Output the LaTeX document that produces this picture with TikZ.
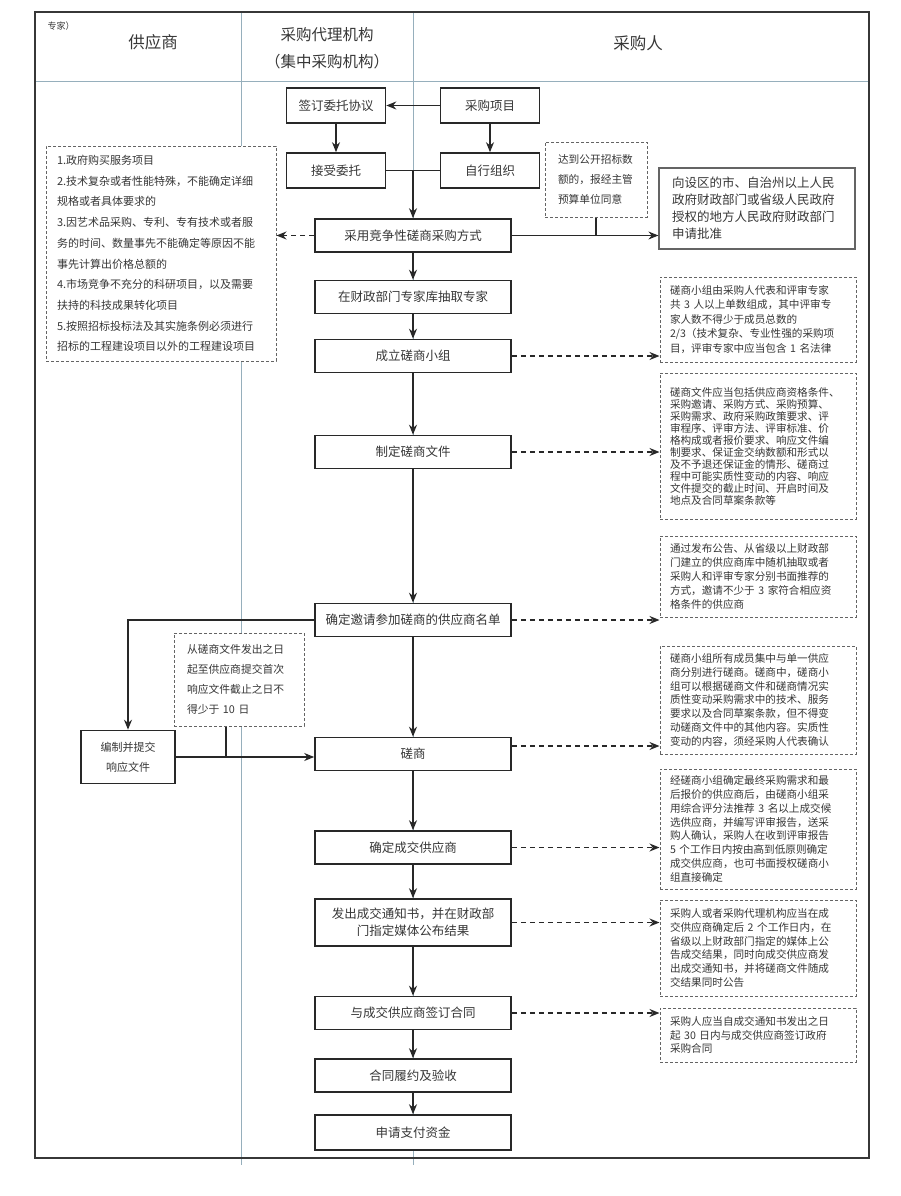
\documentclass[tikz,border=0pt]{standalone}
\usepackage{fontspec}
\newfontfamily\cjkfont{Noto Sans CJK SC}
\usepackage{tikz}
\usetikzlibrary{arrows.meta, calc}

\definecolor{FrameColor}{RGB}{55,55,55}
\definecolor{LaneColor}{RGB}{150,175,188}
\definecolor{BoxColor}{RGB}{40,40,40}
\definecolor{NoteColor}{RGB}{100,100,100}
\definecolor{TextColor}{RGB}{55,55,55}

\tikzstyle{arrow} = [line width=1.4pt, BoxColor, ->, >={Stealth[length=10pt,width=8pt]}]
\tikzstyle{dasharrow} = [line width=1.4pt, BoxColor, dash pattern=on 5pt off 4pt, ->, >={Stealth[length=10pt,width=8pt]}]
\tikzstyle{link} = [line width=1.4pt, BoxColor]
\tikzset{
  flowbox/.style={rectangle, draw=BoxColor, line width=1.6pt, fill=white, text=TextColor, minimum width=196pt, minimum height=33pt, align=center, font=\cjkfont\fontsize{12.5}{17}\selectfont},
  notebox/.style={rectangle, draw=NoteColor, line width=1pt, dash pattern=on 3pt off 2pt, fill=white, text=TextColor, align=left, inner xsep=10pt, text width=176pt, font=\cjkfont\fontsize{10.6}{13.8}\selectfont},
  lane/.style={line width=0.8pt, LaneColor},
  header/.style={text=TextColor, font=\cjkfont\fontsize{16.5}{24}\selectfont}
}

\begin{document}
\begin{tikzpicture}[x=1pt, y=-1pt]
  \useasboundingbox (0,0) rectangle (900,1196);

  % Swim lanes
  \draw[lane] (241,12) -- (241,1165);
  \draw[lane] (413,12) -- (413,1165);
  \draw[lane] (35,81) -- (869,81);

  % Outer frame
  \draw[line width=1.8pt, FrameColor] (35,12) rectangle (869,1158);

  % Lane headers
  \node[text=TextColor, font=\cjkfont\fontsize{9}{9}\selectfont] (stray) at (61,26) {专家）};
  \node[header] (supplier) at (153,42) {供应商};
  \node[header, align=center, font=\cjkfont\fontsize{15.5}{27}\selectfont] (agency) at (327,48.5) {采购代理机构\\（集中采购机构）};
  \node[header] (purchaser) at (638,43) {采购人};

  % Entrusting or self-organising
  \node[flowbox, minimum width=99pt, minimum height=35pt] (agreement) at (336,105.5) {签订委托协议};
  \node[flowbox, minimum width=99pt, minimum height=35pt] (project) at (490,105.5) {采购项目};
  \node[flowbox, minimum width=99pt, minimum height=35pt] (entrust) at (336,170.5) {接受委托};
  \node[flowbox, minimum width=99pt, minimum height=35pt] (selforg) at (490,170.5) {自行组织};
  \draw[arrow] (project) -- (agreement);
  \draw[arrow] (agreement) -- (entrust);
  \draw[arrow] (project) -- (selforg);
  \draw[link] (entrust) -- (selforg);

  % Main flow
  \node[flowbox] (method) at (413,235.5) {采用竞争性磋商采购方式};
  \node[flowbox] (experts) at (413,297) {在财政部门专家库抽取专家};
  \node[flowbox] (panel) at (413,356) {成立磋商小组};
  \node[flowbox] (docs) at (413,452) {制定磋商文件};
  \node[flowbox] (invite) at (413,620) {确定邀请参加磋商的供应商名单};
  \node[flowbox] (consult) at (413,754) {磋商};
  \node[flowbox] (winner) at (413,847.5) {确定成交供应商};
  \node[flowbox, minimum height=47pt] (notice) at (413,922.5) {发出成交通知书，并在财政部\\门指定媒体公布结果};
  \node[flowbox] (contract) at (413,1013) {与成交供应商签订合同};
  \node[flowbox] (perform) at (413,1075.5) {合同履约及验收};
  \node[flowbox, minimum height=35pt] (payment) at (413,1132.5) {申请支付资金};

  \coordinate (join) at (entrust.east -| method.north);
  \draw[arrow] (join) -- (method.north);
  \draw[arrow] (method) -- (experts);
  \draw[arrow] (experts) -- (panel);
  \draw[arrow] (panel) -- (docs);
  \draw[arrow] (docs) -- (invite);
  \draw[arrow] (invite) -- (consult);
  \draw[arrow] (consult) -- (winner);
  \draw[arrow] (winner) -- (notice);
  \draw[arrow] (notice) -- (contract);
  \draw[arrow] (contract) -- (perform);
  \draw[arrow] (perform) -- (payment);

  % Applicable cases
  \node[notebox, text width=208pt, inner xsep=11pt, minimum height=215pt, font=\cjkfont\fontsize{11}{20.7}\selectfont] (services) at (161,253.5) {1.政府购买服务项目\\2.技术复杂或者性能特殊，不能确定详细\\规格或者具体要求的\\3.因艺术品采购、专利、专有技术或者服\\务的时间、数量事先不能确定等原因不能\\事先计算出价格总额的\\4.市场竞争不充分的科研项目，以及需要\\扶持的科技成果转化项目\\5.按照招标投标法及其实施条例必须进行\\招标的工程建设项目以外的工程建设项目};
  \draw[dasharrow] (method.west) -- (method.west -| services.east);

  % Approval
  \node[notebox, text width=76pt, inner xsep=13pt, minimum height=75pt, font=\cjkfont\fontsize{10.7}{20}\selectfont] (threshold) at (596,179.5) {达到公开招标数\\额的，报经主管\\预算单位同意};
  \node[rectangle, draw=NoteColor, line width=1.2pt, fill=white, text=TextColor, align=left, text width=170pt, inner xsep=13pt, minimum height=81pt, font=\cjkfont\fontsize{12.5}{17}\selectfont] (approval) at (757,208.5) {向设区的市、自治州以上人民\\政府财政部门或省级人民政府\\授权的地方人民政府财政部门\\申请批准};
  \draw[arrow] (method.east) -- (method.east -| approval.west);
  \draw[link] (threshold.south) -- (threshold.south |- method.east);

  % Notes on the right
  \node[notebox, minimum height=85pt, font=\cjkfont\fontsize{10.6}{14.5}\selectfont] (panelnote) at (758,319.5) {磋商小组由采购人代表和评审专家\\共 3 人以上单数组成，其中评审专\\家人数不得少于成员总数的\\2/3（技术复杂、专业性强的采购项\\目，评审专家中应当包含 1 名法律};
  \node[notebox, minimum height=146pt, font=\cjkfont\fontsize{10.6}{12}\selectfont] (docsnote) at (758,446) {磋商文件应当包括供应商资格条件、\\采购邀请、采购方式、采购预算、\\采购需求、政府采购政策要求、评\\审程序、评审方法、评审标准、价\\格构成或者报价要求、响应文件编\\制要求、保证金交纳数额和形式以\\及不予退还保证金的情形、磋商过\\程中可能实质性变动的内容、响应\\文件提交的截止时间、开启时间及\\地点及合同草案条款等};
  \node[notebox, minimum height=81pt] (invitenote) at (758,576.5) {通过发布公告、从省级以上财政部\\门建立的供应商库中随机抽取或者\\采购人和评审专家分别书面推荐的\\方式，邀请不少于 3 家符合相应资\\格条件的供应商};
  \node[notebox, minimum height=108pt] (consultnote) at (758,700) {磋商小组所有成员集中与单一供应\\商分别进行磋商。磋商中，磋商小\\组可以根据磋商文件和磋商情况实\\质性变动采购需求中的技术、服务\\要求以及合同草案条款，但不得变\\动磋商文件中的其他内容。实质性\\变动的内容，须经采购人代表确认};
  \node[notebox, minimum height=120pt] (winnernote) at (758,829) {经磋商小组确定最终采购需求和最\\后报价的供应商后，由磋商小组采\\用综合评分法推荐 3 名以上成交候\\选供应商，并编写评审报告，送采\\购人确认，采购人在收到评审报告\\5 个工作日内按由高到低原则确定\\成交供应商，也可书面授权磋商小\\组直接确定};
  \node[notebox, minimum height=96pt] (noticenote) at (758,948) {采购人或者采购代理机构应当在成\\交供应商确定后 2 个工作日内，在\\省级以上财政部门指定的媒体上公\\告成交结果，同时向成交供应商发\\出成交通知书，并将磋商文件随成\\交结果同时公告};
  \node[notebox, minimum height=54pt] (contractnote) at (758,1035) {采购人应当自成交通知书发出之日\\起 30 日内与成交供应商签订政府\\采购合同};

  \draw[dasharrow] (panel.east) -- (panel.east -| panelnote.west);
  \draw[dasharrow] (docs.east) -- (docs.east -| docsnote.west);
  \draw[dasharrow] (invite.east) -- (invite.east -| invitenote.west);
  \coordinate (talk) at ([yshift=8pt]consult.east);
  \draw[dasharrow] (talk) -- (talk -| consultnote.west);
  \draw[dasharrow] (winner.east) -- (winner.east -| winnernote.west);
  \draw[dasharrow] (notice.east) -- (notice.east -| noticenote.west);
  \draw[dasharrow] (contract.east) -- (contract.east -| contractnote.west);

  % Supplier response
  \node[flowbox, minimum width=94pt, minimum height=53pt, font=\cjkfont\fontsize{11}{20}\selectfont] (compile) at (128,757) {编制并提交\\响应文件};
  \node[notebox, text width=104pt, inner xsep=13pt, minimum height=93pt, font=\cjkfont\fontsize{10.8}{20}\selectfont] (deadline) at (239,679.5) {从磋商文件发出之日\\起至供应商提交首次\\响应文件截止之日不\\得少于 10 日};
  \draw[arrow] (invite.west) -| (compile.north);
  \draw[arrow] (compile.east) -- (compile.east -| consult.west);
  \coordinate (tap) at ([xshift=-13pt]deadline.south);
  \draw[link] (tap) -- (tap |- compile.east);
\end{tikzpicture}
\end{document}
